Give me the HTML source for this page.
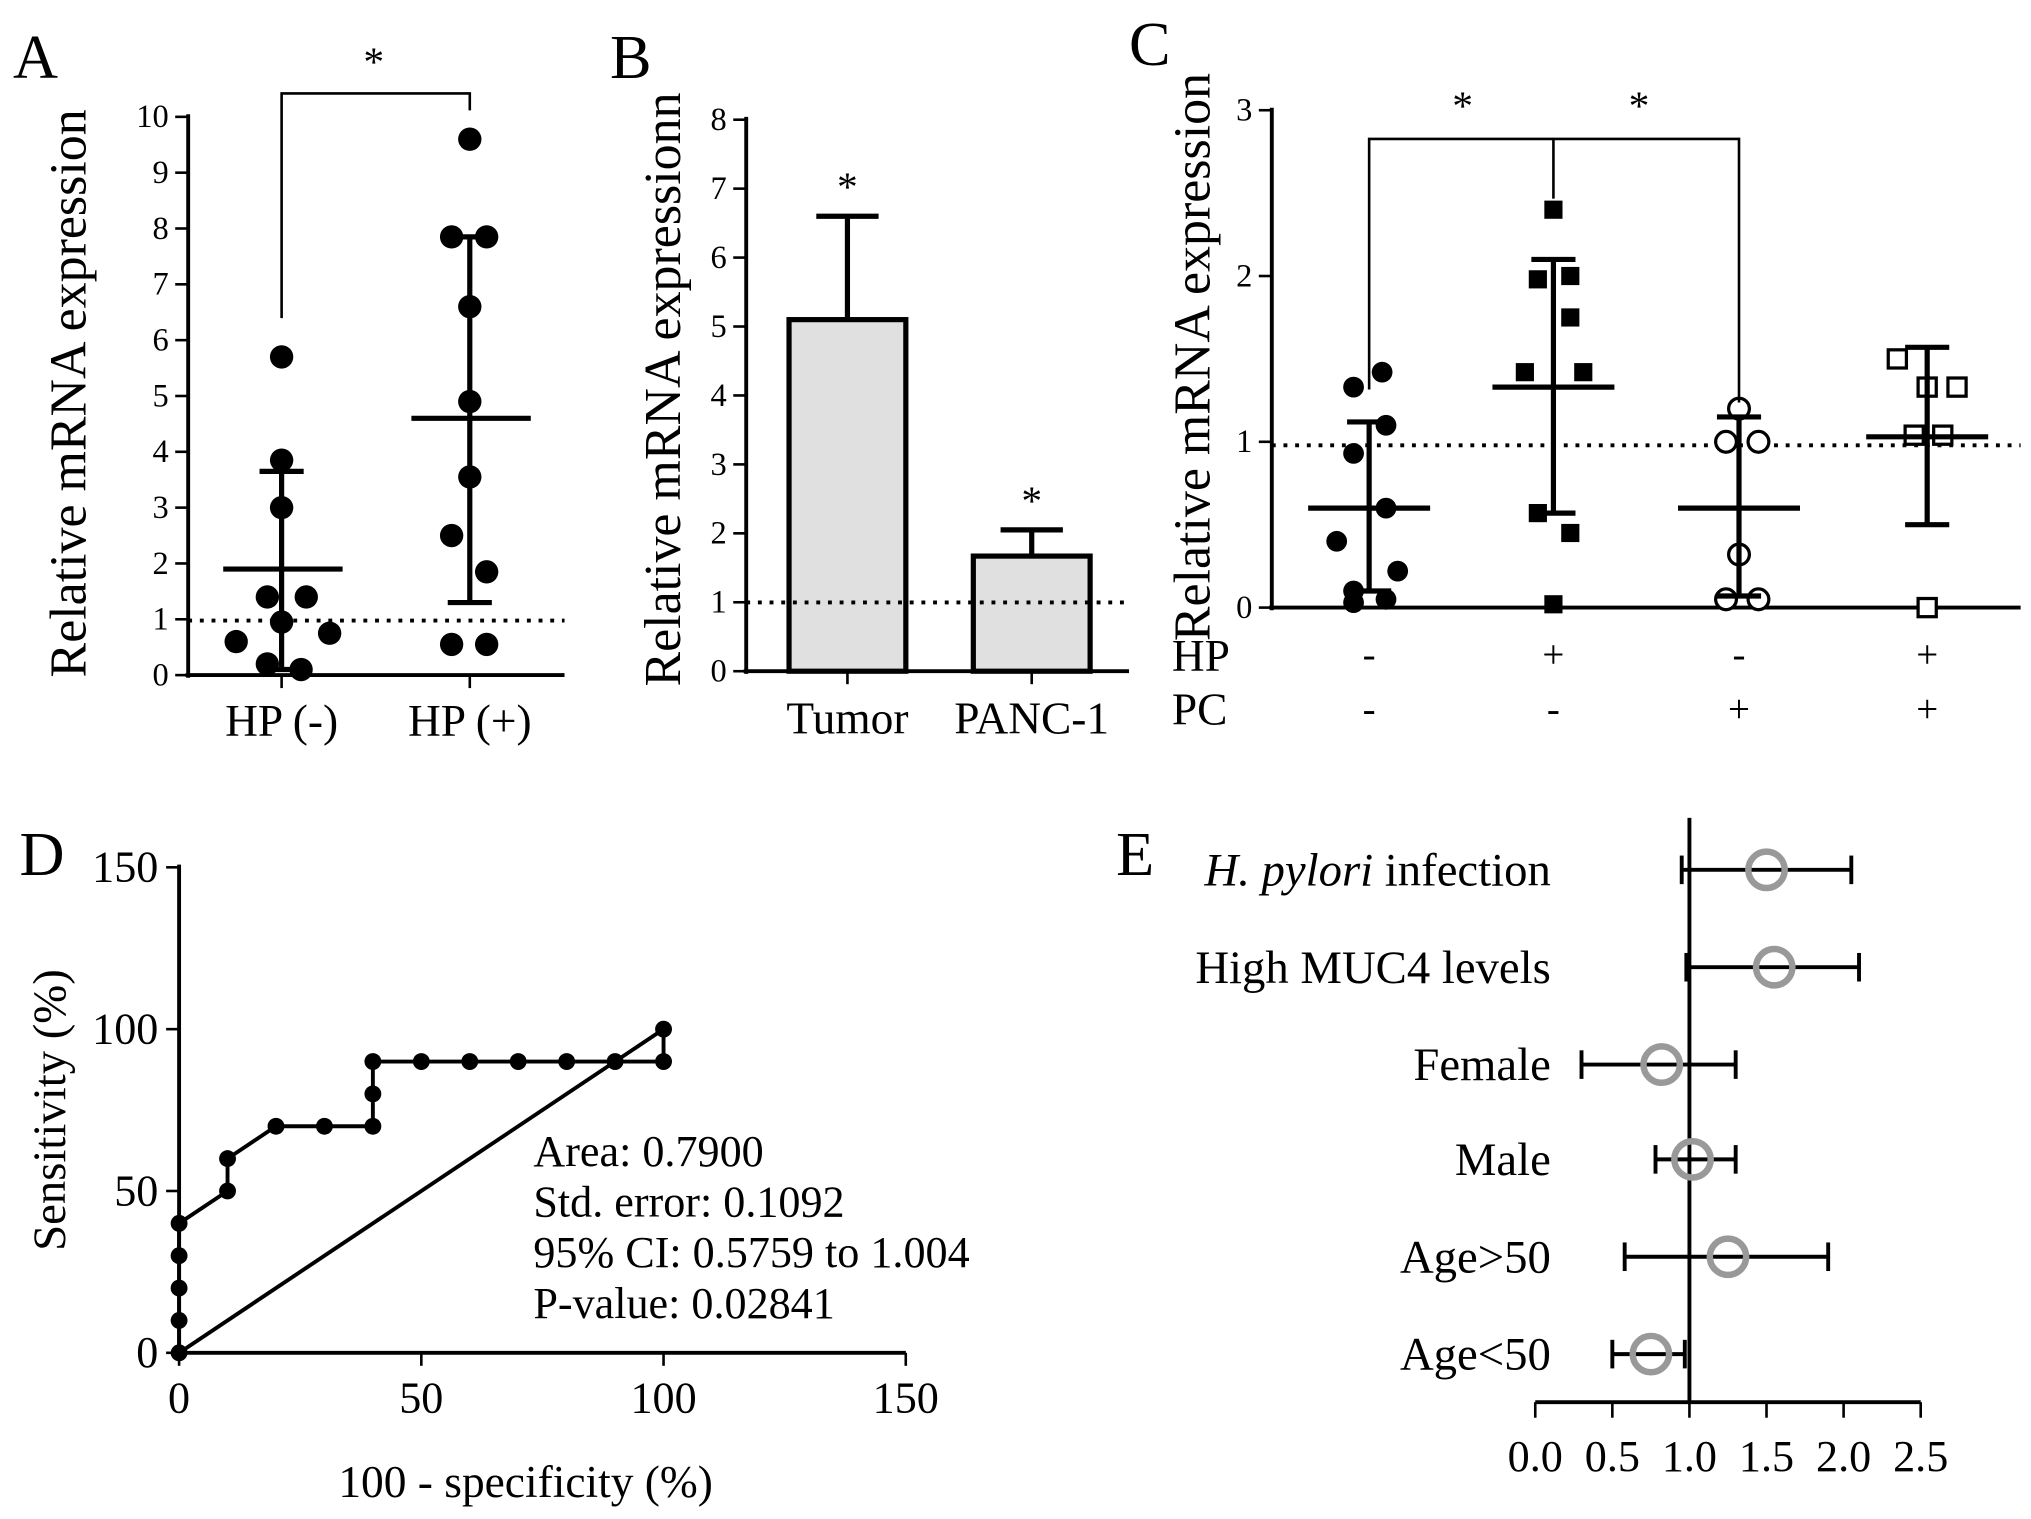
<!DOCTYPE html>
<html><head><meta charset="utf-8"><style>
html,body{margin:0;padding:0;background:#fff}
svg{display:block;font-family:"Liberation Serif",serif}
</style></head><body>
<svg id="fig" width="2031" height="1519" viewBox="0 0 1565 1170" preserveAspectRatio="none" xmlns="http://www.w3.org/2000/svg"></svg>
<script>
// Panel A data
const aCats=["HP (-)","HP (+)"];
const aNeg=[5.7,3.85,3.0,1.4,1.4,0.95,0.6,0.75,0.2,0.1];
const aNegDx=[0,0,0,-11,19,0,-35,37,-11,15];
const aPos=[9.6,7.85,7.85,6.6,4.9,3.55,2.5,1.85,0.55,0.55];
const aPosDx=[0,-14,13,0,0,0,-14,13,-14,13];
const aMean=[1.9,4.6], aHi=[3.65,7.85], aLo=[0.1,1.3];
const aTicks=[0,1,2,3,4,5,6,7,8,9,10];
// Panel B data
const bCats=["Tumor","PANC-1"];
const bVals=[5.1,1.67], bErr=[6.6,2.05];
const bTicks=[0,1,2,3,4,5,6,7,8];
// Panel C data
const cHP=["-","+","-","+"], cPC=["-","-","+","+"];
const cG1=[1.42,1.33,1.1,0.93,0.6,0.4,0.22,0.1,0.05,0.03];
const cG1dx=[10,-12,13,-12,13,-25,22,-12,13,-12];
const cG2=[2.4,1.98,2.0,1.75,1.42,1.42,0.57,0.45,0.02];
const cG2dx=[0,-12,13,13,-22,23,-12,13,0];
const cG3=[1.2,1.0,1.0,0.32,0.05,0.05];
const cG3dx=[0,-10,15,0,-10,15];
const cG4=[1.5,1.33,1.33,1.04,1.04,0.0];
const cG4dx=[-23,0,23,-10,12,0];
const cMean=[0.6,1.33,0.6,1.03], cHi=[1.12,2.1,1.15,1.57], cLo=[0.1,0.57,0.07,0.5];
const cTicks=[0,1,2,3];
// Panel D data
const dX=[0,0,0,0,0,10,10,20,30,40,40,40,50,60,70,80,90,100,100];
const dY=[0,10,20,30,40,50,60,70,70,70,80,90,90,90,90,90,90,90,100];
const dTicks=[0,50,100,150];
// Panel E data
const eLabels=["infection","High MUC4 levels","Female","Male","Age>50","Age<50"];
const eEst=[1.5,1.55,0.82,1.02,1.25,0.75];
const eLo=[0.95,0.98,0.3,0.78,0.58,0.5];
const eHi=[2.05,2.1,1.3,1.3,1.9,0.97];
const eTicks=["0.0","0.5","1.0","1.5","2.0","2.5"];

const svg=document.getElementById('fig');
const NS="http://www.w3.org/2000/svg";
function mk(tag,attrs,name,parent){const e=document.createElementNS(NS,tag);for(const k in attrs)e.setAttribute(k,attrs[k]);


(parent||svg).appendChild(e);return e;}
function line(x1,y1,x2,y2,name,w,extra){return mk('line',Object.assign({x1,y1,x2,y2,stroke:'#000','stroke-width':w||3},extra||{}),name);}
function text(x,y,s,name,size,anchor,extra){const t=mk('text',Object.assign({x,y,'font-size':size||26,'text-anchor':anchor||'middle',fill:'#000'},extra||{}),name);t.textContent=s;return t;}

// ===== Panel A
text(10,60,"A","panel-a-label",48,'start');
const aY=v=>520-43*v, aX=[217,362];
line(145,88,145,522,'a-y-axis');line(143,520,435,520,'a-x-axis');
aTicks.forEach(t=>{line(135,aY(t),145,aY(t),'a-y-tick',2);text(130,aY(t)+8,t,'a-y-tick-label',25,'end');});
aCats.forEach((c,i)=>{line(aX[i],520,aX[i],530,'a-x-tick',2);text(aX[i],567,c,'a-x-tick-label',35);});
text(0,0,"Relative mRNA expression","a-y-axis-title",40,'middle',{transform:'translate(66,303) rotate(-90)'});
line(145,478,435,478,'a-reference-line',3,{'stroke-dasharray':'3,6'});
aNeg.forEach((v,i)=>mk('circle',{cx:aX[0]+aNegDx[i],cy:aY(v),r:9,fill:'#000'},'a-point-hp-neg'));
aPos.forEach((v,i)=>mk('circle',{cx:aX[1]+aPosDx[i],cy:aY(v),r:9,fill:'#000'},'a-point-hp-pos'));
aX.forEach((x,i)=>{line(x-45,aY(aMean[i]),x+47,aY(aMean[i]),'a-mean-line',4);line(x,aY(aHi[i]),x,aY(aLo[i]),'a-sd-line',4);
line(x-17,aY(aHi[i]),x+17,aY(aHi[i]),'a-sd-cap',4);line(x-17,aY(aLo[i]),x+17,aY(aLo[i]),'a-sd-cap',4);});
mk('polyline',{points:`217,245 217,72 362,72 362,85`,fill:'none',stroke:'#000','stroke-width':2},'a-significance-bracket');
text(288,58,"*","a-significance-star",32);

// ===== Panel B
text(470,60,"B","panel-b-label",48,'start');
const bY=v=>517-53.1*v, bX=[653,795];
line(575,90,575,519,'b-y-axis');line(573,517,870,517,'b-x-axis');
bTicks.forEach(t=>{line(565,bY(t),575,bY(t),'b-y-tick',2);text(560,bY(t)+8,t,'b-y-tick-label',25,'end');});
text(0,0,"Relative mRNA expressionn","b-y-axis-title",40,'middle',{transform:'translate(524,300) rotate(-90)'});
bCats.forEach((c,i)=>{line(bX[i],517,bX[i],527,'b-x-tick',2);text(bX[i],565,c,'b-x-tick-label',35);
line(bX[i],bY(bErr[i]),bX[i],bY(bVals[i]),'b-error-bar',4);line(bX[i]-24,bY(bErr[i]),bX[i]+24,bY(bErr[i]),'b-error-cap',4);
mk('rect',{x:bX[i]-45,y:bY(bVals[i]),width:90,height:517-bY(bVals[i]),fill:'#e0e0e0',stroke:'#000','stroke-width':4},'b-bar-'+c.toLowerCase());
text(bX[i],bY(bErr[i])-12,"*","b-significance-star",32);});
line(575,464,870,464,'b-reference-line',3,{'stroke-dasharray':'3,6'});

// ===== Panel C
text(870,50,"C","panel-c-label",48,'start');
const cY=v=>468-127.7*v, cX=[1055,1197,1340,1485];
line(980,83,980,470,'c-y-axis');line(978,468,1557,468,'c-x-axis');
cTicks.forEach(t=>{line(970,cY(t),980,cY(t),'c-y-tick',2);text(965,cY(t)+8,t,'c-y-tick-label',25,'end');});
text(0,0,"Relative mRNA expression","c-y-axis-title",40,'middle',{transform:'translate(932,275) rotate(-90)'});
text(903,517,"HP","c-row-label-hp",35,'start');text(903,558,"PC","c-row-label-pc",35,'start');
cX.forEach((x,i)=>{text(x,514,cHP[i],'c-hp-sign',30);text(x,556,cPC[i],'c-pc-sign',30);});
line(980,343,1557,343,'c-reference-line',3,{'stroke-dasharray':'3,6'});
cG1.forEach((v,i)=>mk('circle',{cx:cX[0]+cG1dx[i],cy:cY(v),r:8,fill:'#000'},'c-point-group1'));
cG2.forEach((v,i)=>mk('rect',{x:cX[1]+cG2dx[i]-7,y:cY(v)-7,width:14,height:14,fill:'#000'},'c-point-group2'));
cG3.forEach((v,i)=>mk('circle',{cx:cX[2]+cG3dx[i],cy:cY(v),r:8,fill:'#fff',stroke:'#000','stroke-width':2.5},'c-point-group3'));
cG4.forEach((v,i)=>mk('rect',{x:cX[3]+cG4dx[i]-7,y:cY(v)-7,width:14,height:14,fill:'#fff',stroke:'#000','stroke-width':2.5},'c-point-group4'));
cX.forEach((x,i)=>{line(x-47,cY(cMean[i]),x+47,cY(cMean[i]),'c-mean-line',4);line(x,cY(cHi[i]),x,cY(cLo[i]),'c-sd-line',4);
line(x-17,cY(cHi[i]),x+17,cY(cHi[i]),'c-sd-cap',4);line(x-17,cY(cLo[i]),x+17,cY(cLo[i]),'c-sd-cap',4);});
mk('polyline',{points:`1055,300 1055,107 1340,107 1340,310`,fill:'none',stroke:'#000','stroke-width':2},'c-significance-bracket');
line(1197,107,1197,153,'c-bracket-middle',2);
text(1127,92,"*","c-star-1",32);text(1263,92,"*","c-star-2",32);

// ===== Panel D
text(15,674,"D","panel-d-label",48,'start');
const dXs=v=>138+3.733*v, dYs=v=>1042-2.493*v;
line(138,666,138,1044,'d-y-axis');line(136,1042,698,1042,'d-x-axis');
dTicks.forEach(t=>{line(128,dYs(t),138,dYs(t),'d-y-tick',2);text(122,dYs(t)+11,t,'d-y-tick-label',34,'end');
line(dXs(t),1042,dXs(t),1052,'d-x-tick',2);text(dXs(t),1088,t,'d-x-tick-label',34);});
text(0,0,"Sensitivity (%)","d-y-axis-title",36,'middle',{transform:'translate(50,855) rotate(-90)'});
text(405,1153,"100 - specificity (%)","d-x-axis-title",35);
line(dXs(0),dYs(0),dXs(100),dYs(100),'d-diagonal',3);
mk('polyline',{points:dX.map((x,i)=>dXs(x)+','+dYs(dY[i])).join(' '),fill:'none',stroke:'#000','stroke-width':3},'d-roc-curve');
dX.forEach((x,i)=>mk('circle',{cx:dXs(x),cy:dYs(dY[i]),r:6.5,fill:'#000'},'d-roc-point'));
["Area: 0.7900","Std. error: 0.1092","95% CI: 0.5759 to 1.004","P-value: 0.02841"].forEach((s,i)=>text(411,898+i*39,s,'d-stat-text',34,'start'));

// ===== Panel E
text(860,674,"E","panel-e-label",48,'start');
const eX=v=>1183+118.8*v, eRows=[670,745,820,893,968,1043];
line(1183,1080,1480,1080,'e-x-axis',3);
eTicks.forEach((t,i)=>{line(eX(+t),1080,eX(+t),1092,'e-x-tick',2);text(eX(+t),1133,t,'e-x-tick-label',34);});
line(eX(1),630,eX(1),1080,'e-null-line',3);
eLabels.forEach((l,i)=>{const y=eRows[i];
if(i===0){const t=text(1195,y+12,"","e-row-label",36,'end');t.innerHTML='<tspan font-style="italic">H. pylori</tspan> infection';}
else text(1195,y+12,l,'e-row-label',36,'end');
line(eX(eLo[i]),y,eX(eHi[i]),y,'e-ci-line',3);
line(eX(eLo[i]),y-11,eX(eLo[i]),y+11,'e-ci-cap',3);line(eX(eHi[i]),y-11,eX(eHi[i]),y+11,'e-ci-cap',3);
mk('circle',{cx:eX(eEst[i]),cy:y,r:14,fill:'none',stroke:'#999','stroke-width':5},'e-estimate-marker');});
</script>
</body></html>
